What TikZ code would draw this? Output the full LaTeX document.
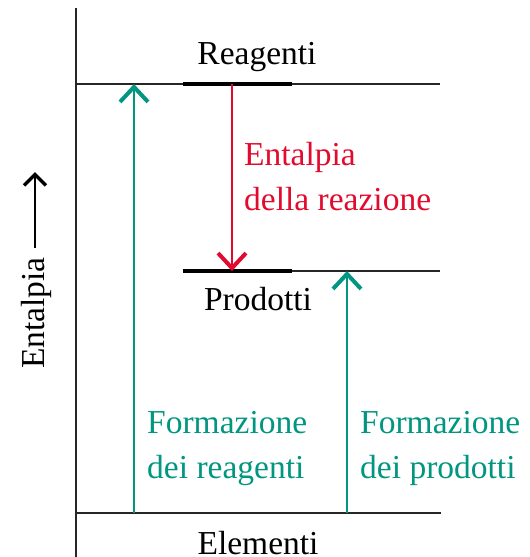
\documentclass[tikz,border=0pt]{standalone}
\usepackage{fontspec}
\setmainfont{Liberation Serif}
\usetikzlibrary{arrows.meta}
\definecolor{rred}{RGB}{226,10,45}
\definecolor{ggreen}{RGB}{0,150,128}
\tikzset{
  lvl/.style={line width=1.6pt, black!85},
  thicklvl/.style={line width=4.5pt, black},
  barb/.style={-{Straight Barb[length=15pt,width=28pt,line width=4pt]}},
  lab/.style={font=\fontsize{33.5}{45}\selectfont, inner sep=0pt},
  mlab/.style={lab, align=left, anchor=north west},
}
\begin{document}
\begin{tikzpicture}[x=1pt,y=-1pt]
\useasboundingbox (0,0) rectangle (530,557);
% coordinates
\coordinate (axTop) at (76,8);
\coordinate (axBot) at (76,557);
\coordinate (rL) at (76,84);  \coordinate (rR) at (440,84);
\coordinate (rTL) at (183,84); \coordinate (rTR) at (292,84);
\coordinate (pL) at (183,271); \coordinate (pR) at (440,271);
\coordinate (pTR) at (292,271);
\coordinate (eL) at (76,513); \coordinate (eR) at (441,513);
\coordinate (g1b) at (134,513); \coordinate (g1t) at (134,84);
\coordinate (g2b) at (347,513); \coordinate (g2t) at (347,271);
\coordinate (rdT) at (232,84); \coordinate (rdB) at (232,271);
% axis and levels
\draw[lvl] (axTop) -- (axBot);
\draw[lvl] (rL) -- (rR);
\draw[thicklvl] (rTL) -- (rTR);
\draw[lvl] (pL) -- (pR);
\draw[thicklvl] (pL) -- (pTR);
\draw[lvl] (eL) -- (eR);
% arrows
\draw[ggreen, line width=1.8pt, barb] (g1b) -- (g1t);
\draw[ggreen, line width=1.8pt, barb] (g2b) -- (g2t);
\draw[rred, line width=1.8pt, barb] (rdT) -- (rdB);
% labels
\node[lab] (reag) at (257,57) {Reagenti};
\node[lab] (prod) at (258,299) {Prodotti};
\node[lab] (elem) at (258,543) {Elementi};
\node[mlab, text=rred] (dh) at (244,142) {Entalpia\\della reazione};
\node[mlab, text=ggreen] (fr) at (147,411) {Formazione\\dei reagenti};
\node[mlab, text=ggreen] (fp) at (360,411) {Formazione\\dei prodotti};
\node[lab, rotate=90] (ent) at (36,313) {Entalpia};
\coordinate (entS) at (35,248);
\coordinate (entT) at (35,172);
\draw[line width=1.3pt, -{Straight Barb[length=11pt,width=22pt,line width=3.4pt]}] (entS) -- (entT);
\end{tikzpicture}
\end{document}
